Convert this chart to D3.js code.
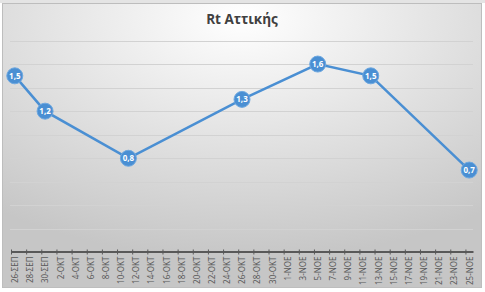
<!DOCTYPE html>
<html>
<head>
<meta charset="utf-8">
<script src="https://cdn.jsdelivr.net/npm/d3@7"></script>
<style>
  body { margin: 0; background: #fff; }
  svg { display: block; }
</style>
</head>
<body>
<svg id="drawing_region"></svg>
<script>
// data
const pointDates = ["2020-09-26", "2020-09-30", "2020-10-11", "2020-10-26", "2020-11-05", "2020-11-12", "2020-11-25"];
const rtValues = [1.5, 1.2, 0.8, 1.3, 1.6, 1.5, 0.7];
const tickLabels = [
    "26-ΣΕΠ", "28-ΣΕΠ", "30-ΣΕΠ",
    "2-ΟΚΤ", "4-ΟΚΤ", "6-ΟΚΤ", "8-ΟΚΤ", "10-ΟΚΤ", "12-ΟΚΤ", "14-ΟΚΤ", "16-ΟΚΤ",
    "18-ΟΚΤ", "20-ΟΚΤ", "22-ΟΚΤ", "24-ΟΚΤ", "26-ΟΚΤ", "28-ΟΚΤ", "30-ΟΚΤ",
    "1-ΝΟΕ", "3-ΝΟΕ", "5-ΝΟΕ", "7-ΝΟΕ", "9-ΝΟΕ", "11-ΝΟΕ", "13-ΝΟΕ", "15-ΝΟΕ",
    "17-ΝΟΕ", "19-ΝΟΕ", "21-ΝΟΕ", "23-ΝΟΕ", "25-ΝΟΕ"
];
const gridValues = [0.2, 0.4, 0.6, 0.8, 1.0, 1.2, 1.4, 1.6, 1.8];
const title = "Rt Αττικής";

const monthIndex = { "ΣΕΠ": 8, "ΟΚΤ": 9, "ΝΟΕ": 10 };
const tickDates = tickLabels.map(s => {
    const [d, m] = s.split("-");
    return new Date(2020, monthIndex[m], +d);
});
const data = pointDates.map((s, i) => ({ date: d3.timeParse("%Y-%m-%d")(s), value: rtValues[i] }));

const width = 485, height = 292;
const blue = "#4a8fd3";

const svg = d3.select("#drawing_region")
    .attr("width", width)
    .attr("height", height);

// background gradient
const defs = svg.append("defs");
const grad = defs.append("radialGradient")
    .attr("id", "bg")
    .attr("cx", 0.5).attr("cy", 0.05).attr("r", 0.85);
grad.append("stop").attr("offset", "0%").attr("stop-color", "#ffffff");
grad.append("stop").attr("offset", "100%").attr("stop-color", "#c6c6c6");

svg.append("rect")
    .attr("x", 0).attr("y", 0).attr("width", width).attr("height", 3)
    .attr("fill", "#e4e4e4");

svg.append("rect")
    .attr("x", 2.5).attr("y", 3.5).attr("width", 479).attr("height", 284)
    .attr("fill", "url(#bg)")
    .attr("stroke", "#bdbdbd");

// title
svg.append("text")
    .attr("x", 242).attr("y", 23.5)
    .attr("text-anchor", "middle")
    .attr("font-family", "'Open Sans', sans-serif")
    .attr("font-weight", "bold")
    .attr("font-size", 13.5)
    .attr("fill", "#404040")
    .text(title);

// scales
const xscale = d3.scaleTime()
    .domain([new Date(2020, 8, 26), new Date(2020, 10, 26)])
    .range([11, 473]);
const yscale = d3.scaleLinear()
    .domain([0, 1.8])
    .range([252.5, 40.5]);
const halfDay = (xscale(new Date(2020, 8, 27)) - xscale(new Date(2020, 8, 26))) / 2;

// gridlines
svg.append("g")
    .selectAll("line")
    .data(gridValues)
    .join("line")
    .attr("x1", 10).attr("x2", 473)
    .attr("y1", d => Math.round(yscale(d)) + 0.5)
    .attr("y2", d => Math.round(yscale(d)) + 0.5)
    .attr("stroke", "#d2d2d2")
    .attr("stroke-width", 1);

// x axis
const xaxis = d3.axisBottom(xscale)
    .tickValues(tickDates)
    .tickSize(3)
    .tickSizeOuter(0)
    .tickFormat((d, i) => tickLabels[i]);

const xaxis_group = svg.append("g")
    .attr("transform", `translate(0, ${yscale(0) - 1})`)
    .call(xaxis);

xaxis_group.select(".domain")
    .attr("stroke", "#595959")
    .attr("stroke-width", 2);
xaxis_group.selectAll(".tick line")
    .attr("stroke", "#595959")
    .attr("y1", -2);
xaxis_group.selectAll(".tick text")
    .attr("font-family", "'Noto Sans', sans-serif")
    .attr("font-size", 8)
    .attr("fill", "#595959")
    .attr("text-anchor", "end")
    .attr("dy", "0.35em")
    .attr("transform", `translate(${halfDay}, 2) rotate(-90)`)
    .attr("x", -3)
    .attr("y", 0);

// line
const line = d3.line()
    .x(d => xscale(d.date) + halfDay)
    .y(d => yscale(d.value));

svg.append("path")
    .datum(data)
    .attr("d", line)
    .attr("fill", "none")
    .attr("stroke", blue)
    .attr("stroke-width", 2.5);

// markers with labels
const fmt = d3.formatLocale({ decimal: ",", thousands: ".", grouping: [3], currency: ["", "€"] }).format(".1f");

const points = svg.append("g")
    .selectAll("g")
    .data(data)
    .join("g")
    .attr("transform", d => `translate(${xscale(d.date) + halfDay}, ${yscale(d.value)})`);

points.append("circle")
    .attr("r", 8)
    .attr("fill", blue)
    .attr("stroke", "#6ea8e0")
    .attr("stroke-width", 1);

points.append("text")
    .attr("text-anchor", "middle")
    .attr("dy", "0.35em")
    .attr("font-family", "'Noto Sans', sans-serif")
    .attr("font-weight", "bold")
    .attr("font-size", 8)
    .attr("fill", "#ffffff")
    .text(d => fmt(d.value));
</script>
</body>
</html>
